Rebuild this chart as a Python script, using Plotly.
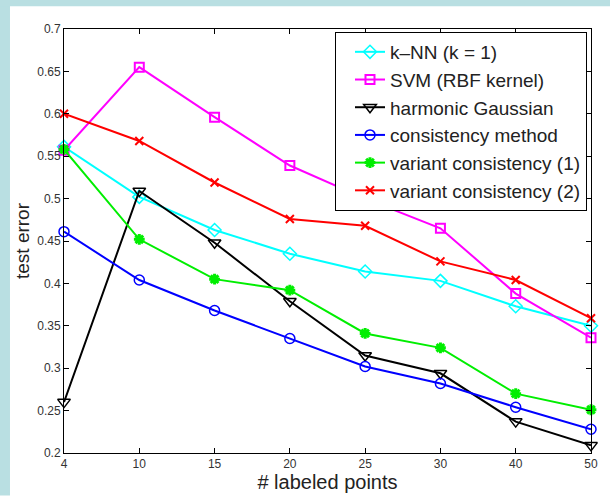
import plotly.graph_objects as go

x_labels = ["4", "10", "15", "20", "25", "30", "40", "50"]
y_ticks = [0.2, 0.25, 0.3, 0.35, 0.4, 0.45, 0.5, 0.55, 0.6, 0.65, 0.7]
y_tick_text = ["0.2", "0.25", "0.3", "0.35", "0.4", "0.45", "0.5", "0.55", "0.6", "0.65", "0.7"]

knn = [0.561, 0.502, 0.463, 0.435, 0.414, 0.403, 0.373, 0.350]
svm = [0.557, 0.655, 0.596, 0.539, 0.500, 0.465, 0.388, 0.336]
harmonic = [0.260, 0.509, 0.448, 0.379, 0.315, 0.294, 0.237, 0.209]
consistency = [0.461, 0.404, 0.368, 0.335, 0.302, 0.282, 0.254, 0.228]
variant1 = [0.558, 0.452, 0.405, 0.392, 0.341, 0.324, 0.270, 0.251]
variant2 = [0.600, 0.568, 0.519, 0.476, 0.468, 0.426, 0.404, 0.359]

series = [
    ("k\u2013NN (k = 1)", knn, "#00ffff", "diamond-open", 10, 1.5),
    ("SVM (RBF kernel)", svm, "#ff00ff", "square-open", 9, 2),
    ("harmonic Gaussian", harmonic, "#000000", "triangle-down-open", 11, 1.5),
    ("consistency method", consistency, "#0000ff", "circle-open", 10, 1.5),
    ("variant consistency (1)", variant1, "#00ee00", "asterisk-open", 9, 3),
    ("variant consistency (2)", variant2, "#ff0000", "x-thin-open", 8, 2),
]

fig = go.Figure()
for name, vals, color, sym, size, mlw in series:
    fig.add_trace(go.Scatter(
        x=x_labels, y=vals, name=name, mode="lines+markers",
        line=dict(color=color, width=2),
        marker=dict(symbol=sym, size=size, color=color,
                    line=dict(color=color, width=mlw)),
        cliponaxis=False,
    ))

bg = "#b9dfe2"
fig.add_shape(type="rect", xref="paper", yref="paper",
              x0=-0.1215, x1=-0.1025, y0=-0.1, y1=1.07,
              fillcolor=bg, line=dict(width=0), layer="below")
fig.add_shape(type="rect", xref="paper", yref="paper",
              x0=-0.1215, x1=1.04, y0=1.0537, y1=1.07,
              fillcolor=bg, line=dict(width=0), layer="below")

axis_common = dict(
    showline=True, linecolor="#000000", linewidth=1, mirror="ticks",
    ticks="inside", ticklen=5, tickcolor="#000000", showgrid=False,
    zeroline=False, tickfont=dict(size=12, color="#333333"),
)

fig.update_layout(
    width=610, height=499,
    margin=dict(l=64, r=19, t=29, b=42),
    paper_bgcolor="#ffffff", plot_bgcolor="#ffffff",
    font=dict(family="Liberation Sans, Arial, sans-serif", color="#222222"),
    xaxis=dict(type="category", range=[0, 7],
               title=dict(text="# labeled points", font=dict(size=20), standoff=2),
               **axis_common),
    yaxis=dict(range=[0.2, 0.7], tickvals=y_ticks, ticktext=y_tick_text,
               title=dict(text="test error", font=dict(size=19), standoff=2),
               **axis_common),
    legend=dict(x=0.9924, y=0.993, xanchor="right", yanchor="top",
                bgcolor="#ffffff", bordercolor="#000000", borderwidth=1,
                font=dict(size=19, color="#222222"), tracegroupgap=0,
                itemwidth=30, indentation=14),
    showlegend=True,
)

fig.write_html("out.html")
